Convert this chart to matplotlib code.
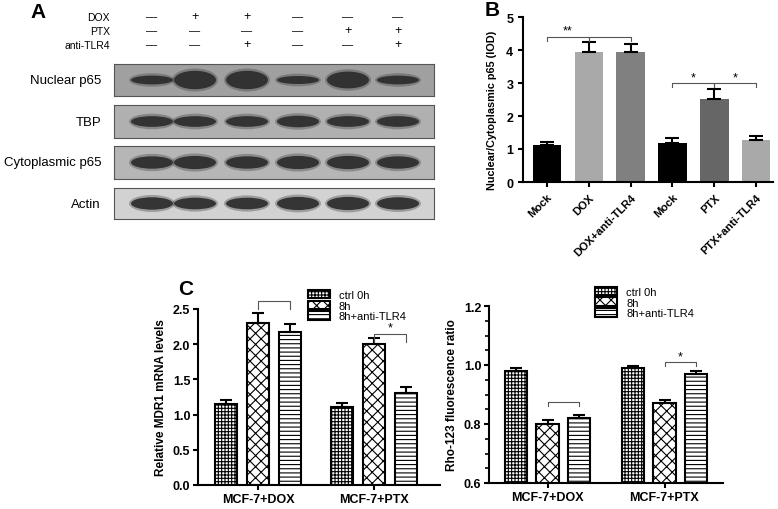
import matplotlib.pyplot as plt
import numpy as np
from matplotlib.patches import Ellipse

W, H = 778, 510

# ---- data ----
lanes_dox = ['-', '+', '+', '-', '-', '-']
lanes_ptx = ['-', '-', '-', '-', '+', '+']
lanes_tlr = ['-', '-', '+', '-', '-', '+']
blot_rows = ['Nuclear p65', 'TBP', 'Cytoplasmic p65', 'Actin']
# band strength (relative height) per lane
band_nuclear = [0.35, 0.95, 0.95, 0.3, 0.85, 0.35]
band_tbp = [0.45, 0.45, 0.45, 0.5, 0.45, 0.45]
band_cyto = [0.55, 0.6, 0.55, 0.6, 0.6, 0.55]
band_actin = [0.6, 0.55, 0.55, 0.65, 0.65, 0.6]
blot_bg = ['#a0a0a0', '#b0b0b0', '#b6b6b6', '#d2d2d2']

b_cats = ['Mock', 'DOX', 'DOX+anti-TLR4', 'Mock', 'PTX', 'PTX+anti-TLR4']
b_vals = [1.12, 3.95, 3.93, 1.18, 2.53, 1.28]
b_err = [0.08, 0.28, 0.25, 0.15, 0.30, 0.12]
b_cols = ['black', '#a9a9a9', '#808080', 'black', '#666666', '#a9a9a9']

groups = ['MCF-7+DOX', 'MCF-7+PTX']
series = ['ctrl 0h', '8h', '8h+anti-TLR4']
mdr_vals = [[1.15, 1.11], [2.30, 2.00], [2.18, 1.30]]
mdr_err = [[0.06, 0.05], [0.15, 0.09], [0.10, 0.09]]
rho_vals = [[0.98, 0.99], [0.80, 0.87], [0.82, 0.97]]
rho_err = [[0.010, 0.005], [0.012, 0.010], [0.010, 0.008]]
hatches = ['+++++', 'xxx', '----']

fig = plt.figure(figsize=(W / 100, H / 100), dpi=100)
plt.rcParams['font.family'] = ['Liberation Sans', 'DejaVu Sans']
plt.rcParams['hatch.linewidth'] = 0.8

def ax_px(x0, y0, x1, y1):
    return fig.add_axes([x0 / W, 1 - y1 / H, (x1 - x0) / W, (y1 - y0) / H])

def ftext(x, y, s, **kw):
    fig.text(x / W, 1 - y / H, s, **kw)

# ---- panel A ----
ftext(30, 12, 'A', fontsize=15, fontweight='bold', va='center')
lane_x = [152, 195, 247, 298, 348, 398]
for y, lab, signs in [(17, 'DOX', lanes_dox), (31, 'PTX', lanes_ptx), (45, 'anti-TLR4', lanes_tlr)]:
    ftext(110, y + 1, lab, fontsize=7.5, ha='right', va='center')
    for x, s in zip(lane_x, signs):
        ftext(x, y, '+' if s == '+' else '\u2014', fontsize=9 if s == '+' else 8, ha='center', va='center')

strips = [(65, 97), (106, 139), (147, 180), (189, 220)]
bands = [band_nuclear, band_tbp, band_cyto, band_actin]
for (y0, y1), lab, bg, bd in zip(strips, blot_rows, blot_bg, bands):
    ax = ax_px(114, y0, 434, y1)
    ax.set_xlim(114, 434)
    ax.set_ylim(0, 1)
    ax.set_facecolor(bg)
    ax.set_xticks([])
    ax.set_yticks([])
    for sp in ax.spines.values():
        sp.set_color('#555555')
        sp.set_linewidth(0.8)
    for x, h in zip(lane_x, bd):
        ax.add_patch(Ellipse((x, 0.5), 46, 0.5 * h + 0.25, color='#3a3a3a', alpha=0.35, lw=0))
        ax.add_patch(Ellipse((x, 0.5), 42, 0.5 * h + 0.1, color='#2a2a2a', alpha=0.9, lw=0))
    ftext(101, (y0 + y1) / 2, lab, fontsize=9.5, ha='right', va='center')

# ---- panel B ----
ftext(485, 10, 'B', fontsize=15, fontweight='bold', va='center')
ax = ax_px(523, 18, 773, 183)
x = np.arange(len(b_cats))
ax.bar(x, b_vals, width=0.68, color=b_cols)
ax.errorbar(x, b_vals, yerr=[np.zeros(6), b_err], fmt='none', ecolor='black', elinewidth=1.5, capsize=5, capthick=1.5)
ax.set_xlim(-0.57, 5.4)
ax.set_ylim(0, 5)
ax.set_yticks(range(6))
ax.set_xticks(x)
ax.set_xticklabels(b_cats, rotation=45, ha='right', rotation_mode='anchor', fontsize=8, fontweight='bold')
ax.tick_params(axis='y', labelsize=9, width=1.5)
ax.tick_params(axis='x', width=1.5)
for lbl in ax.get_yticklabels():
    lbl.set_fontweight('bold')
ax.spines[['top', 'right']].set_visible(False)
ax.spines[['left', 'bottom']].set_linewidth(1.5)
ax.set_ylabel('Nuclear/Cytoplasmic p65 (IOD)', fontsize=7.8, fontweight='bold')
ax.yaxis.set_label_coords(-0.105, 0.44)

def bracket(ax, x0, x1, y, h, txt='', ty=None, c='#555555'):
    ax.plot([x0, x0, x1, x1], [y - h, y, y, y - h], color=c, lw=0.8, clip_on=False)
    if txt:
        ax.text((x0 + x1) / 2 if ty is None else ty, y, txt, ha='center', va='bottom', fontsize=9)

bracket(ax, 0, 1, 4.4, 0.12, '**', 0.5)
bracket(ax, 1, 2, 4.4, 0.12)
bracket(ax, 3, 4, 3.0, 0.12, '*')
bracket(ax, 4, 5, 3.0, 0.12, '*')

# ---- panel C ----
ftext(178, 290, 'C', fontsize=15, fontweight='bold', va='center')

def grouped(ax, vals, errs, off, w):
    gx = np.array([0.0, 1.0])
    pos = []
    for i in range(3):
        xx = gx + (i - 1) * off
        pos.append(xx)
        ax.bar(xx, vals[i], width=w, color='white', edgecolor='black', lw=1.5, hatch=hatches[i], label=series[i])
        ax.errorbar(xx, vals[i], yerr=[np.zeros(2), errs[i]], fmt='none', ecolor='black', elinewidth=1.5, capsize=4, capthick=1.5)
    ax.set_xticks(gx)
    ax.set_xticklabels(groups, fontsize=9, fontweight='bold')
    ax.spines[['top', 'right']].set_visible(False)
    ax.spines[['left', 'bottom']].set_linewidth(1.5)
    ax.tick_params(width=1.5, labelsize=9, pad=2)
    ax.legend(loc='upper left', bbox_to_anchor=(0.43, 1.14), fontsize=8, frameon=False,
              handlelength=2, handleheight=0.8, labelspacing=0.05, borderpad=0)
    return pos

ax1 = ax_px(198, 310, 440, 486)
pos = grouped(ax1, mdr_vals, mdr_err, 0.276, 0.19)
ax1.set_xlim(-0.52, 1.57)
ax1.set_ylim(0, 2.5)
ax1.set_yticks([0, 0.5, 1.0, 1.5, 2.0, 2.5])
ax1.set_yticklabels(['0.0', '0.5', '1.0', '1.5', '2.0', '2.5'], fontweight='bold')
ax1.set_ylabel('Relative MDR1 mRNA levels', fontsize=8.5, fontweight='bold')
bracket(ax1, pos[1][0], pos[2][0], 2.62, 0.12)
bracket(ax1, pos[1][1], pos[2][1], 2.15, 0.12, '*')

ax2 = ax_px(489, 307, 723, 484)
pos = grouped(ax2, rho_vals, rho_err, 0.27, 0.19)
ax2.set_xlim(-0.5, 1.5)
ax2.set_ylim(0.6, 1.2)
ax2.set_yticks([0.6, 0.8, 1.0, 1.2])
ax2.set_yticklabels(['0.6', '0.8', '1.0', '1.2'], fontweight='bold')
ax2.set_yticks(np.arange(0.6, 1.21, 0.05), minor=True)
ax2.tick_params(which='minor', width=1.2, length=3)
ax2.set_ylabel('Rho-123 fluorescence ratio', fontsize=8.5, fontweight='bold')
bracket(ax2, pos[1][0], pos[2][0], 0.875, 0.015)
bracket(ax2, pos[1][1], pos[2][1], 1.01, 0.015, '*')

fig.savefig('out.png', dpi=100)
